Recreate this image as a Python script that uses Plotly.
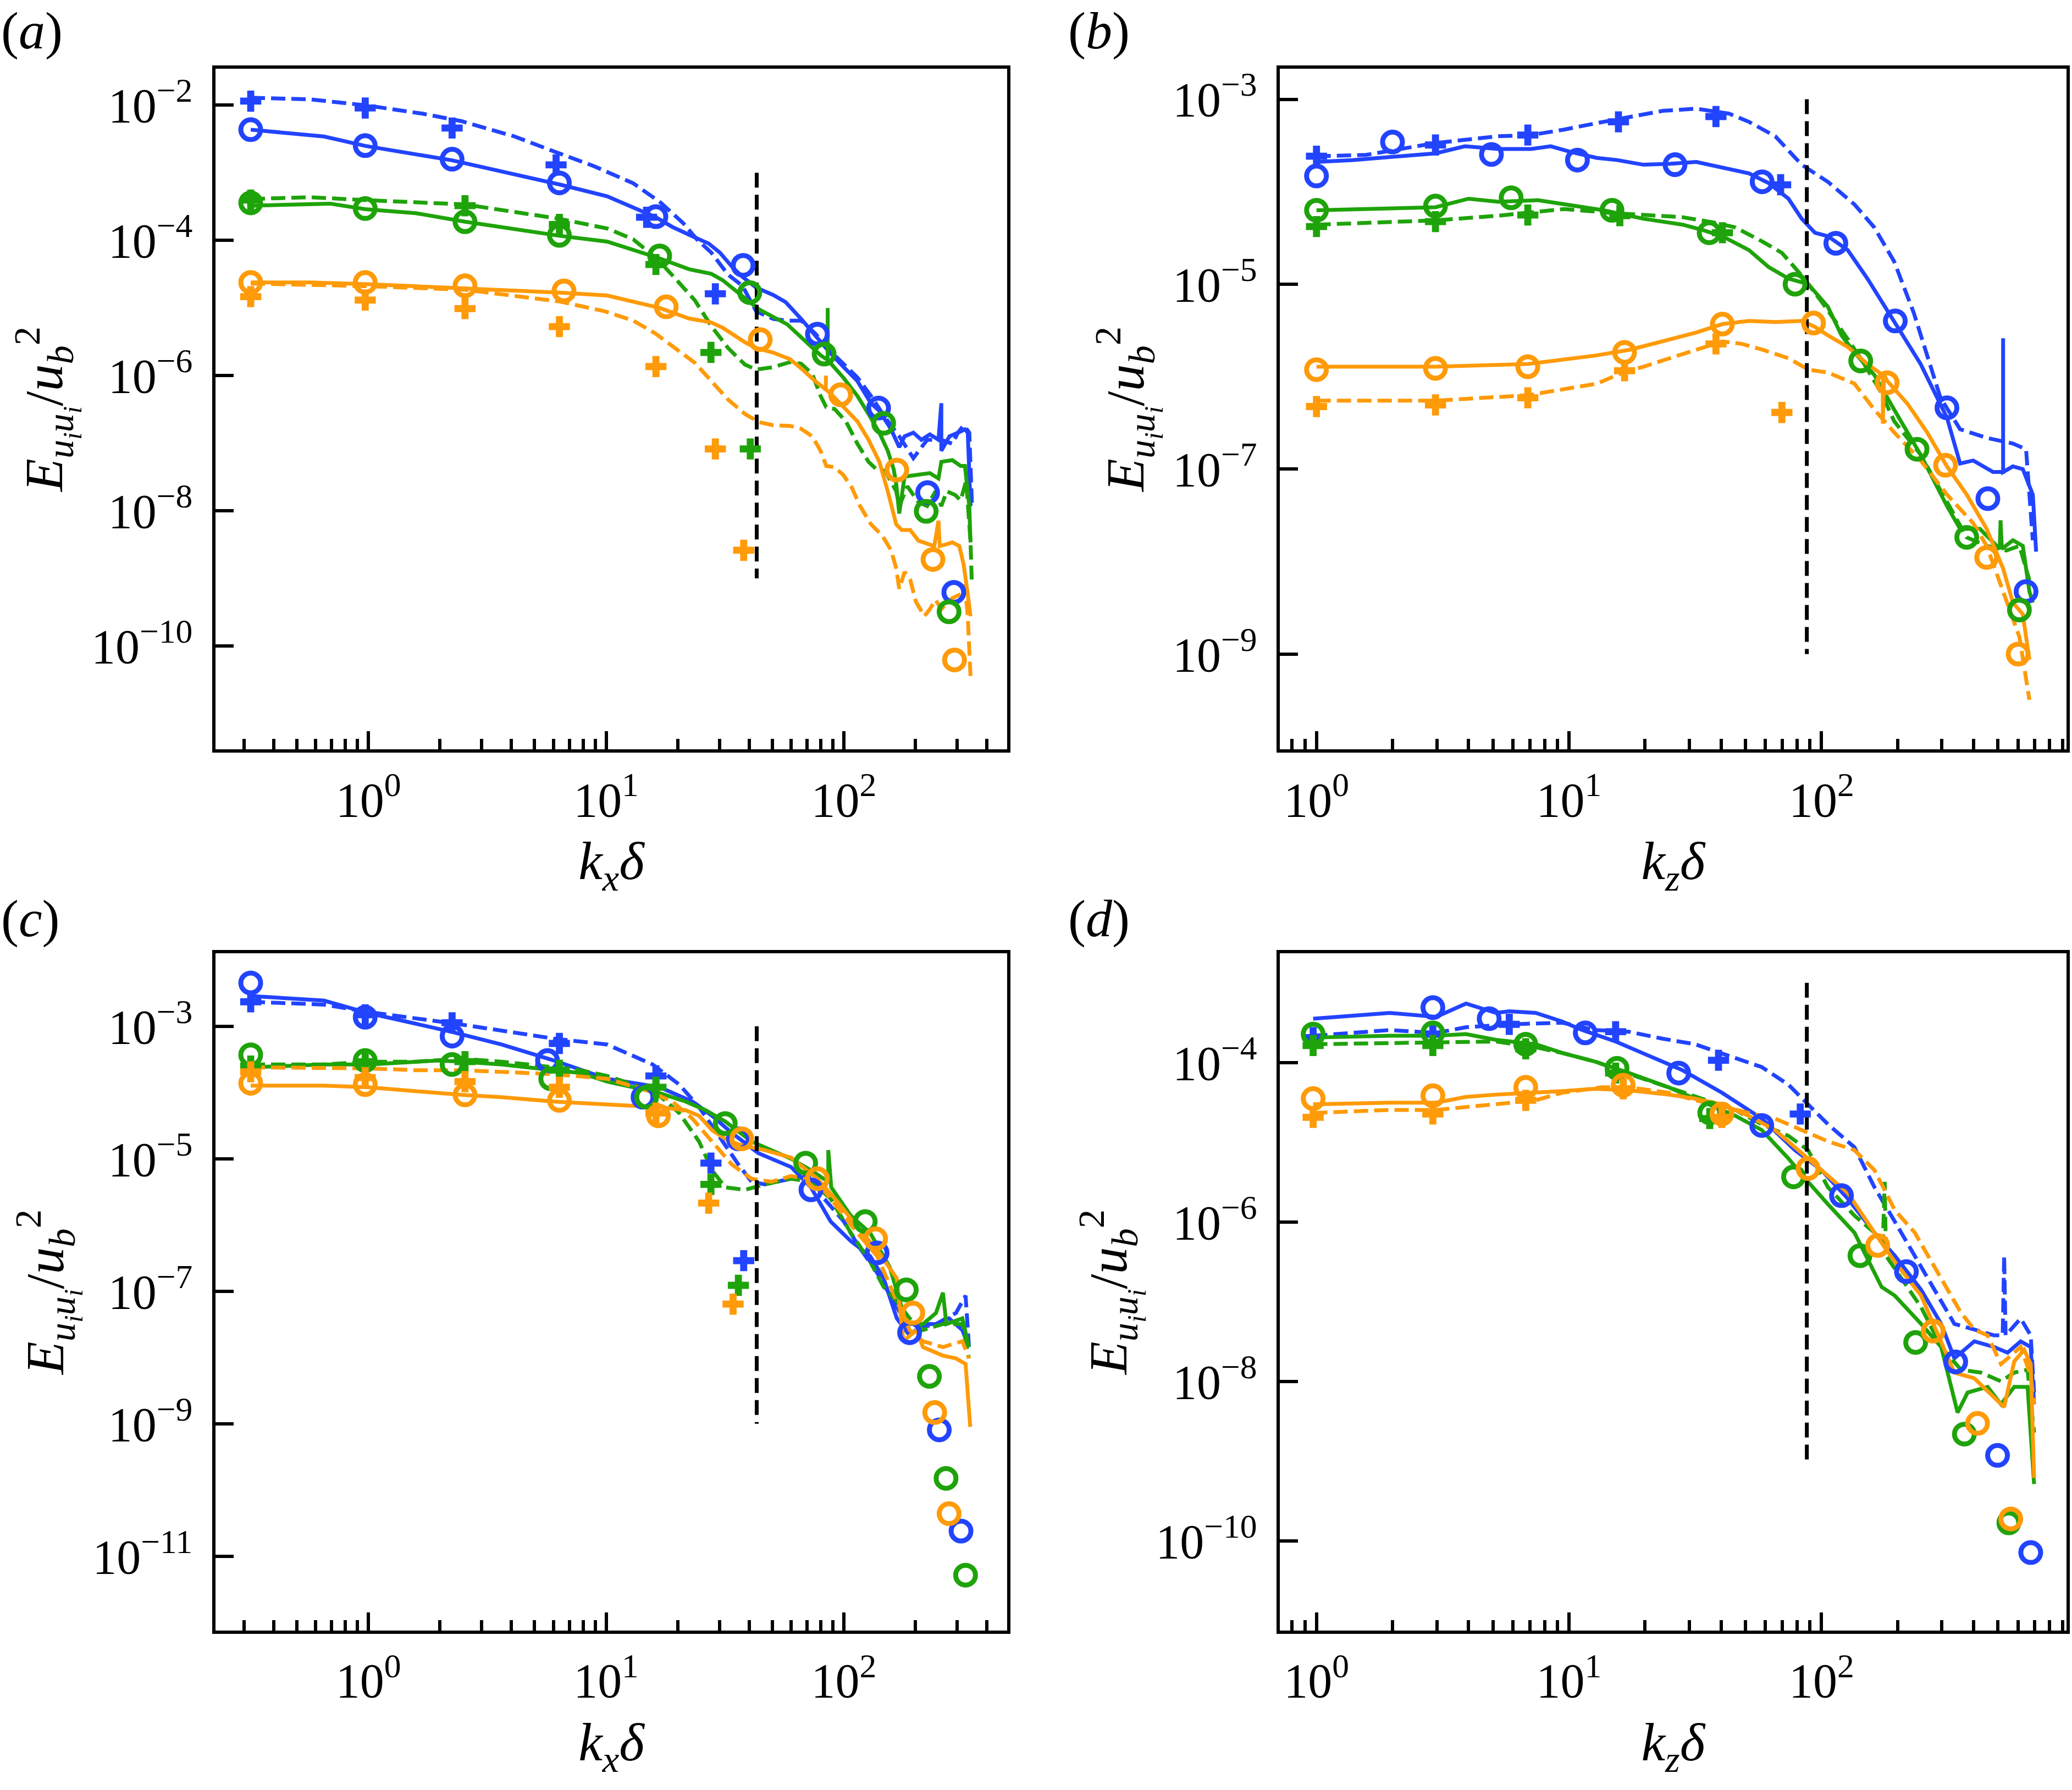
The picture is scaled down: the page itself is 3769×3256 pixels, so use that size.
import plotly.graph_objects as go
from plotly.subplots import make_subplots

# line colours of the three data sets
BLUE = "#2244ff"
GREEN = "#1fa30a"
ORANGE = "#ff9a08"
FONT = '"Liberation Serif", "Times New Roman", Times, serif'

# ---------------- panel (a): streamwise spectra ----------------
a_blue_solid_x = [0.32, 0.65, 0.97, 2.25, 6.4, 10.1, 16.2, 19.0, 23.6, 27.0, 30.1, 34.0, 37.4, 42.8, 50.4, 56.9, 66.1, 75.7, 86.7, 99.3,
                  114, 130, 141, 158, 171, 180, 196, 212, 230, 250, 257, 257, 278, 302, 323, 332, 341]
a_blue_solid_y = [4.35e-3, 3.45e-3, 2.5e-3, 1.53e-3, 6.7e-4, 4.5e-4, 2.2e-4, 1.58e-4, 1.11e-4, 9.0e-5, 6.6e-5, 4.0e-5, 2.9e-5, 2.0e-5,
                  1.56e-5, 1.22e-5, 6.9e-6, 3.9e-6, 2.25e-6, 1.36e-6, 8.3e-7, 3.9e-7, 3.0e-7, 1.6e-7, 8.7e-8, 1.26e-7, 1.43e-7,
                  1.12e-7, 1.35e-7, 1.12e-7, 3.9e-7, 7.7e-8, 1.26e-7, 1.43e-7, 1.6e-7, 1.43e-7, 1.17e-8]
a_blue_dash_x = [0.32, 0.57, 0.97, 1.69, 2.47, 4.12, 5.67, 8.86, 13.0, 17.0, 21.1, 24.2, 27.7, 32.6, 37.4, 42.8, 50.4, 57.7, 66.1, 75.7,
                 91.4, 114, 130, 149, 171, 196, 224, 257, 286, 302, 319, 337, 346]
a_blue_dash_y = [1.29e-2, 1.22e-2, 1.0e-2, 7.5e-3, 5.8e-3, 3.45e-3, 2.25e-3, 1.26e-3, 7.0e-4, 3.6e-4, 1.8e-4, 1.02e-4, 6.6e-5, 3.1e-5,
                 2.14e-5, 8.9e-6, 6.9e-6, 6.5e-6, 6.5e-6, 4.2e-6, 2.0e-6, 9.4e-7, 5.0e-7, 2.4e-7, 1.26e-7, 6.0e-8, 1.12e-7,
                 1.12e-7, 9.8e-8, 1.43e-7, 1.84e-7, 1.43e-7, 1.17e-8]
a_blue_circ_x = [0.32, 0.97, 2.25, 6.36, 16.2, 37.7, 77.4, 140, 225, 290]
a_blue_circ_y = [4.35e-3, 2.53e-3, 1.59e-3, 7.1e-4, 2.25e-4, 4.27e-5, 4.1e-6, 3.3e-7, 1.86e-8, 6.2e-10]
a_blue_plus_x = [0.32, 0.97, 2.25, 6.16, 14.8, 28.8]
a_blue_plus_y = [1.15e-2, 9.1e-3, 4.6e-3, 1.31e-3, 2.2e-4, 1.62e-5]

a_green_solid_x = [0.32, 0.69, 0.97, 1.58, 2.55, 6.36, 10.1, 14.5, 16.6, 22.3, 27.7, 30.9, 34.5, 39.5, 44.0, 57.7, 69.7, 79.8, 85.5,
                   85.5, 85.5, 99.3, 114, 127, 141, 153, 162, 166, 171, 180, 206, 230, 250, 257, 286, 310, 323, 337, 341]
a_green_solid_y = [3.26e-4, 3.5e-4, 2.9e-4, 2.53e-4, 1.89e-4, 1.17e-4, 9.6e-5, 6.5e-5, 5.5e-5, 3.75e-5, 3.2e-5, 2.58e-5, 1.89e-5,
                   1.3e-5, 9.5e-6, 5.75e-6, 3.1e-6, 2.0e-6, 1.7e-6, 1.0e-5, 1.7e-6, 9.4e-7, 5.0e-7, 2.7e-7, 1.43e-7, 7.7e-8,
                   4.1e-8, 2.5e-8, 9.1e-9, 3.2e-8, 3.4e-8, 3.6e-8, 3.0e-8, 5.3e-8, 5.6e-8, 4.6e-8, 4.6e-8, 1.17e-8, 3.4e-9]
a_green_dash_x = [0.32, 0.57, 0.97, 1.58, 2.55, 6.36, 10.1, 13.0, 16.6, 19.5, 23.6, 27.7, 32.6, 38.4, 42.8, 50.4, 59.3, 66.1, 73.6,
                  79.8, 84.3, 91.4, 102, 114, 127, 137, 149, 166, 171, 185, 206, 224, 243, 257, 271, 294, 310, 327, 341, 345]
a_green_dash_y = [4.1e-4, 4.35e-4, 3.95e-4, 3.7e-4, 3.4e-4, 2.09e-4, 1.5e-4, 1.04e-4, 5.1e-5, 2.75e-5, 1.3e-5, 5.4e-6, 2.55e-6,
                  1.45e-6, 1.23e-6, 1.33e-6, 1.58e-6, 1.5e-6, 1.06e-6, 5.0e-7, 3.4e-7, 3.2e-7, 2.1e-7, 9.8e-8, 5.3e-8, 4.1e-8,
                  3.9e-8, 1.94e-8, 1.17e-8, 2.3e-8, 1.33e-8, 1.17e-8, 1.94e-8, 1.17e-8, 1.94e-8, 1.71e-8, 1.42e-8, 2.8e-8,
                  3.4e-9, 9.6e-10]
a_green_circ_x = [0.32, 0.97, 2.55, 6.36, 16.8, 40.2, 82.6, 147, 222, 277]
a_green_circ_y = [3.6e-4, 2.96e-4, 1.89e-4, 1.19e-4, 5.9e-5, 1.69e-5, 2.08e-6, 1.97e-7, 9.8e-9, 3.2e-10]
a_green_plus_x = [0.32, 2.55, 6.36, 16.2, 27.6, 40.4]
a_green_plus_y = [3.95e-4, 3.26e-4, 1.72e-4, 4.4e-5, 2.2e-6, 8.2e-8]

a_orange_solid_x = [0.32, 0.57, 1.0, 2.55, 6.36, 10.1, 16.8, 22.3, 27.7, 30.9, 34.5, 38.4, 42.8, 50.4, 59.3, 66.1, 75.7, 84.0,
                    84.0, 84.0, 86.7, 99.3, 114, 127, 141, 153, 166, 175, 190, 206, 224, 240, 250, 253, 271, 286, 306, 319,
                    332, 341]
a_orange_solid_y = [2.39e-5, 2.39e-5, 2.25e-5, 1.97e-5, 1.69e-5, 1.53e-5, 1.0e-5, 7.0e-6, 6.1e-6, 5.1e-6, 3.9e-6, 3.1e-6,
                    2.55e-6, 2.19e-6, 1.75e-6, 1.28e-6, 8.3e-7, 6.2e-7, 1.0e-6, 6.2e-7, 5.7e-7, 3.4e-7, 2.1e-7, 1.12e-7,
                    5.3e-8, 1.94e-8, 6.3e-9, 5.2e-9, 5.2e-9, 3.6e-9, 3.2e-9, 3.0e-9, 7.1e-9, 3.0e-9, 3.2e-9, 3.4e-9,
                    3.0e-9, 1.6e-9, 5.8e-10, 2.75e-10]
a_orange_dash_x = [0.32, 1.0, 2.55, 6.36, 9.9, 13.0, 16.1, 19.5, 23.6, 27.7, 32.6, 38.4, 44.0, 50.4, 59.3, 66.1, 73.6, 79.8, 84.3,
                   91.4, 99.3, 108, 117, 130, 145, 158, 166, 171, 180, 190, 201, 218, 230, 243, 257, 271, 286, 310, 323,
                   332, 341]
a_orange_dash_y = [2.3e-5, 2.1e-5, 1.86e-5, 1.25e-5, 8.9e-6, 6.5e-6, 4.2e-6, 2.55e-6, 1.55e-6, 8.3e-7, 4.4e-7, 2.7e-7, 2.04e-7,
                   1.84e-7, 1.8e-7, 1.63e-7, 1.26e-7, 7.7e-8, 4.6e-8, 4.4e-8, 3.4e-8, 2.2e-8, 1.17e-8, 6.3e-9, 4.3e-9,
                   2.6e-9, 1.4e-9, 7.0e-10, 1.24e-9, 9.6e-10, 4.5e-10, 2.75e-10, 3.5e-10, 4.8e-10, 3.5e-10, 4.3e-10,
                   5.1e-10, 5.8e-10, 8.0e-10, 2.75e-10, 3.5e-11]
a_orange_circ_x = [0.32, 0.97, 2.55, 6.65, 17.9, 44.5, 96.9, 167, 237, 292]
a_orange_circ_y = [2.39e-5, 2.39e-5, 2.13e-5, 1.79e-5, 1.04e-5, 3.4e-6, 5.2e-7, 4.0e-8, 1.9e-9, 6.2e-11]
a_orange_plus_x = [0.32, 0.97, 2.55, 6.36, 16.2, 28.8, 37.9]
a_orange_plus_y = [1.47e-5, 1.31e-5, 9.8e-6, 5.3e-6, 1.36e-6, 8.2e-8, 2.6e-9]

# ---------------- panel (b): spanwise spectra ----------------
b_blue_solid_x = [1.0, 1.39, 2.96, 3.87, 5.24, 7.08, 8.47, 10.2, 12.9, 15.5, 19.7, 25.0, 31.9, 40.5, 51.6, 61.8, 74, 83.5, 94.2,
                  106, 127, 152, 194, 247, 314, 354, 399, 478, 524, 524, 524, 573, 627, 687, 708]
b_blue_solid_y = [2.1e-4, 2.2e-4, 2.6e-4, 3.1e-4, 2.9e-4, 2.9e-4, 3.1e-4, 2.68e-4, 2.32e-4, 2.2e-4, 1.96e-4, 2.0e-4, 2.1e-4,
                  1.83e-4, 1.58e-4, 1.24e-4, 8.4e-5, 5.1e-5, 3.6e-5, 3.3e-5, 2.34e-5, 1.15e-5, 4.0e-6, 1.37e-6, 3.6e-7,
                  1.15e-7, 1.24e-7, 9.3e-8, 9.3e-8, 2.6e-6, 9.3e-8, 1.07e-7, 1.0e-7, 5.3e-8, 1.28e-8]
b_blue_dash_x = [1.0, 1.57, 2.96, 5.24, 7.08, 9.56, 13.7, 17.5, 23.6, 31.9, 43.0, 51.6, 65.6, 83.5, 106, 135, 162, 194, 232, 296,
                 354, 451, 573, 646, 687]
b_blue_dash_y = [2.42e-4, 2.5e-4, 3.36e-4, 3.98e-4, 4.1e-4, 4.7e-4, 5.7e-4, 6.5e-4, 7.5e-4, 7.9e-4, 7.0e-4, 5.7e-4, 3.98e-4,
                 1.96e-4, 1.28e-4, 7.3e-5, 4.1e-5, 1.76e-5, 4.9e-6, 5.9e-7, 2.7e-7, 2.18e-7, 1.89e-7, 1.64e-7, 1.7e-8]
b_blue_circ_x = [1.0, 2.0, 4.93, 10.8, 26.3, 58.2, 114, 196, 314, 456, 646]
b_blue_circ_y = [1.48e-4, 3.45e-4, 2.53e-4, 2.2e-4, 1.96e-4, 1.28e-4, 2.77e-5, 4.0e-6, 4.6e-7, 4.8e-8, 4.75e-9]
b_blue_plus_x = [1.0, 2.96, 6.87, 15.7, 38.2, 68.9]
b_blue_plus_y = [2.42e-4, 3.2e-4, 4.1e-4, 5.7e-4, 6.5e-4, 1.19e-4]

b_green_solid_x = [1.0, 2.96, 4.0, 5.24, 7.5, 9.56, 13.7, 19.7, 28.2, 33.8, 40.5, 51.6, 61.8, 74, 88.7, 106, 120, 135, 162, 194,
                   247, 314, 354, 424, 508, 512, 518, 573, 627, 666, 687]
b_green_solid_y = [6.3e-5, 6.8e-5, 8.4e-5, 7.8e-5, 8.1e-5, 7.3e-5, 6.3e-5, 5.1e-5, 4.4e-5, 3.85e-5, 3.3e-5, 2.34e-5, 1.53e-5,
                   1.15e-5, 1.0e-5, 5.7e-6, 2.8e-6, 1.83e-6, 1.04e-6, 4.4e-7, 1.43e-7, 4.0e-8, 2.26e-8, 2.26e-8, 1.37e-8,
                   2.8e-8, 1.37e-8, 1.7e-8, 1.48e-8, 4.75e-9, 3.6e-9]
b_green_dash_x = [1.0, 2.96, 5.24, 6.87, 9.56, 14.6, 19.7, 28.2, 38.2, 45.7, 58.2, 69.7, 83.5, 100, 120, 143, 172, 194, 247, 314,
                  376, 451, 540, 608, 666]
b_green_dash_y = [4.4e-5, 4.9e-5, 5.5e-5, 5.9e-5, 6.5e-5, 5.9e-5, 5.6e-5, 5.3e-5, 4.6e-5, 4.1e-5, 2.9e-5, 2.18e-5, 1.24e-5,
                  6.5e-6, 3.2e-6, 1.58e-6, 6.8e-7, 3.3e-7, 1.43e-7, 4.3e-8, 1.83e-8, 1.48e-8, 1.32e-8, 1.48e-8, 6.3e-9]
b_green_circ_x = [1.0, 2.96, 5.9, 14.8, 35.9, 78.6, 143, 239, 376, 608]
b_green_circ_y = [6.3e-5, 7.0e-5, 8.6e-5, 6.3e-5, 3.6e-5, 1.0e-5, 1.48e-6, 1.64e-7, 1.83e-8, 3.0e-9]
b_green_plus_x = [1.0, 2.96, 6.87, 15.9, 40.5]
b_green_plus_y = [4.2e-5, 4.75e-5, 5.6e-5, 5.5e-5, 3.6e-5]

b_orange_solid_x = [1.0, 2.96, 6.87, 9.56, 12.9, 17.5, 23.6, 31.9, 40.5, 51.6, 65.6, 83.5, 94.2, 106, 127, 152, 175, 175, 177, 182,
                    219, 262, 314, 376, 451, 524, 573, 627, 666]
b_orange_solid_y = [1.28e-6, 1.28e-6, 1.37e-6, 1.54e-6, 1.7e-6, 1.96e-6, 2.4e-6, 3.0e-6, 3.7e-6, 4.0e-6, 3.9e-6, 4.0e-6, 3.45e-6,
                    2.8e-6, 2.1e-6, 1.37e-6, 1.04e-6, 3.1e-7, 1.04e-6, 9.0e-7, 5.1e-7, 2.5e-7, 1.07e-7, 5.3e-8, 2.26e-8,
                    8.4e-9, 3.6e-9, 2.7e-9, 8.7e-10]
b_orange_dash_x = [1.0, 2.96, 6.87, 9.56, 12.9, 16.4, 19.7, 25.0, 31.9, 40.5, 48.5, 58.2, 74, 88.7, 106, 135, 162, 194, 247, 314,
                   399, 451, 524, 608, 666]
b_orange_dash_y = [5.5e-7, 5.5e-7, 6.3e-7, 7.3e-7, 8.4e-7, 1.11e-6, 1.28e-6, 1.58e-6, 1.96e-6, 2.4e-6, 2.26e-6, 1.96e-6, 1.58e-6,
                   1.19e-6, 1.11e-6, 8.4e-7, 4.4e-7, 2.5e-7, 1.24e-7, 5.3e-8, 2.6e-8, 1.48e-8, 4.75e-9, 1.53e-9, 3.2e-10]
b_orange_circ_x = [1.0, 2.96, 6.87, 16.6, 40.5, 93, 182, 310, 451, 601]
b_orange_circ_y = [1.19e-6, 1.23e-6, 1.28e-6, 1.83e-6, 3.7e-6, 3.8e-6, 8.6e-7, 1.1e-7, 1.11e-8, 1.0e-9]
b_orange_plus_x = [1.0, 2.96, 6.87, 16.6, 38.2, 69.7]
b_orange_plus_y = [4.75e-7, 4.95e-7, 5.9e-7, 1.16e-6, 2.26e-6, 4.1e-7]

# ---------------- panel (c): streamwise spectra ----------------
c_blue_solid_x = [0.32, 0.65, 1.0, 2.25, 3.63, 6.04, 10.1, 16.8, 23.1, 27.9, 33.8, 43.6, 60, 72.7, 88, 107, 129, 147, 167, 189,
                  215, 244, 277, 315, 336]
c_blue_solid_y = [2.86e-3, 2.44e-3, 1.58e-3, 8.2e-4, 5.3e-4, 3.04e-4, 1.61e-4, 1.2e-4, 7.3e-5, 4.45e-5, 2.45e-5, 1.22e-5,
                  7.5e-6, 3.7e-6, 1.13e-6, 5.7e-7, 3.4e-7, 1.56e-7, 3.9e-8, 2.15e-8, 3.2e-8, 3.2e-8, 3.9e-8, 2.6e-8, 1.44e-8]
c_blue_dash_x = [0.32, 0.65, 1.0, 2.47, 6.04, 10.1, 13.0, 15.7, 20.3, 24.6, 29.8, 36.0, 40.9, 46.5, 60, 72.7, 82.6, 100, 114, 138,
                 167, 189, 244, 296, 325, 336]
c_blue_dash_y = [2.34e-3, 2.12e-3, 1.64e-3, 1.06e-3, 6.5e-4, 5.3e-4, 3.56e-4, 2.65e-4, 1.32e-4, 6.0e-5, 2.22e-5, 8.2e-6, 4.5e-6,
                 4.1e-6, 5.0e-6, 5.5e-6, 2.5e-6, 1.13e-6, 5.1e-7, 1.9e-7, 5.8e-8, 2.6e-8, 3.2e-8, 4.7e-8, 8.6e-8, 1.44e-8]
c_blue_circ_x = [0.32, 0.97, 2.25, 5.67, 14.3, 36.0, 72.7, 138, 189, 252, 311]
c_blue_circ_y = [4.5e-3, 1.37e-3, 7.1e-4, 3.04e-4, 8.5e-5, 2.0e-5, 3.4e-6, 3.8e-7, 2.37e-8, 8.1e-10, 2.4e-11]
c_blue_plus_x = [0.32, 0.97, 2.25, 6.36, 16.2, 27.6, 37.9]
c_blue_plus_y = [2.34e-3, 1.49e-3, 1.13e-3, 5.5e-4, 1.78e-4, 8.6e-6, 2.9e-7]

c_green_solid_x = [0.32, 0.65, 1.01, 1.58, 1.98, 2.47, 3.63, 6.04, 7.8, 10.1, 13.0, 16.8, 21.6, 26.2, 31.7, 40.9, 46.5, 60, 72.7,
                   86, 86, 88.5, 107, 129, 156, 178, 189, 215, 244, 261, 270, 315, 336]
c_green_solid_y = [2.4e-4, 2.65e-4, 2.65e-4, 2.92e-4, 3.04e-4, 2.92e-4, 2.65e-4, 2.17e-4, 1.97e-4, 1.46e-4, 1.2e-4, 9.8e-5,
                   7.3e-5, 5.4e-5, 3.65e-5, 1.82e-5, 1.49e-5, 1.0e-5, 6.7e-6, 4.5e-6, 1.35e-5, 3.7e-6, 1.38e-6, 7.6e-7,
                   2.3e-7, 4.7e-8, 3.2e-8, 3.2e-8, 4.7e-8, 9.5e-8, 3.2e-8, 3.9e-8, 1.44e-8]
c_green_dash_x = [0.32, 0.65, 1.01, 1.58, 2.47, 3.63, 6.04, 7.8, 10.1, 13.0, 16.8, 20.3, 24.6, 27.9, 31.7, 38.4, 46.5, 60, 72.7,
                  88, 107, 129, 147, 167, 189, 215, 261, 315, 336]
c_green_dash_y = [2.65e-4, 2.65e-4, 2.92e-4, 2.92e-4, 3.23e-4, 2.92e-4, 2.4e-4, 2.17e-4, 1.78e-4, 1.32e-4, 8.9e-5, 4.9e-5,
                  1.82e-5, 6.7e-6, 3.7e-6, 3.4e-6, 4.1e-6, 5.0e-6, 4.5e-6, 2.5e-6, 7.6e-7, 2.8e-7, 1.16e-7, 7.1e-8, 3.9e-8,
                  2.6e-8, 3.2e-8, 3.2e-8, 9.7e-9]
c_green_circ_x = [0.32, 0.97, 2.25, 5.85, 14.8, 31.7, 69.1, 123, 183, 229, 269, 325]
c_green_circ_y = [3.7e-4, 3.04e-4, 2.65e-4, 1.61e-4, 8.5e-5, 3.4e-5, 8.6e-6, 1.13e-6, 1.05e-7, 5.2e-9, 1.5e-10, 5.2e-12]
c_green_plus_x = [0.32, 0.97, 2.55, 6.36, 16.2, 27.6, 36.0]
c_green_plus_y = [2.5e-4, 2.92e-4, 2.92e-4, 2.17e-4, 1.2e-4, 4.1e-6, 1.23e-7]

c_orange_solid_x = [0.32, 0.65, 1.0, 1.58, 2.47, 3.63, 6.04, 10.1, 13.0, 16.8, 21.6, 24.6, 27.9, 31.7, 36.0, 46.5, 60, 77.4, 93.8,
                    114, 138, 167, 178, 202, 215, 261, 296, 325, 340]
c_orange_solid_y = [1.27e-4, 1.27e-4, 1.2e-4, 1.04e-4, 9.2e-5, 8.5e-5, 7.3e-5, 6.6e-5, 6.2e-5, 6.0e-5, 5.4e-5, 4.45e-5, 2.7e-5,
                    2.0e-5, 1.65e-5, 1.35e-5, 1.04e-5, 5.0e-6, 2.27e-6, 9.3e-7, 4.2e-7, 1.56e-7, 1.76e-8, 2.6e-8, 1.44e-8,
                    1.07e-8, 9.7e-9, 8.0e-9, 9.0e-10]
c_orange_dash_x = [0.32, 0.65, 1.01, 1.58, 2.47, 3.63, 6.04, 10.1, 14.8, 19.0, 23.1, 27.9, 33.8, 40.9, 49.6, 60, 77.4, 93.8, 114,
                   138, 167, 189, 215, 261, 315, 336]
c_orange_dash_y = [2.4e-4, 2.31e-4, 2.31e-4, 2.17e-4, 2.17e-4, 2.05e-4, 1.89e-4, 1.61e-4, 1.08e-4, 7.3e-5, 4.0e-5, 1.82e-5,
                   8.2e-6, 5.0e-6, 4.5e-6, 5.5e-6, 4.5e-6, 1.86e-6, 7.6e-7, 3.4e-7, 7.1e-8, 2.6e-8, 1.76e-8, 1.44e-8,
                   1.76e-8, 9.7e-9]
c_orange_circ_x = [0.32, 0.97, 2.55, 6.36, 16.6, 37.2, 77.4, 136, 195, 241, 277]
c_orange_circ_y = [1.38e-4, 1.32e-4, 9.2e-5, 7.6e-5, 4.45e-5, 2.0e-5, 5.0e-6, 6.2e-7, 4.7e-8, 1.48e-9, 4.4e-11]
c_orange_plus_x = [0.32, 0.97, 2.55, 6.36, 16.2, 27.0, 34.2]
c_orange_plus_y = [2.05e-4, 1.68e-4, 1.46e-4, 1.2e-4, 4.9e-5, 2.14e-6, 6.4e-8]

# ---------------- panel (d): spanwise spectra ----------------
d_blue_solid_x = [0.97, 1.95, 2.98, 3.91, 5.14, 5.8, 7.38, 9.41, 11.3, 15.3, 20.7, 28.0, 40.3, 58, 78.5, 100, 127, 162, 195, 248,
                  298, 336, 403, 483, 546, 615, 674, 695]
d_blue_solid_y = [3.56e-4, 4.2e-4, 3.74e-4, 5.5e-4, 4.2e-4, 4.4e-4, 4.2e-4, 3.27e-4, 2.56e-4, 1.84e-4, 1.22e-4, 8.1e-5, 4.2e-5,
                  1.99e-5, 8.0e-6, 4.5e-6, 1.98e-6, 7.4e-7, 3.8e-7, 1.42e-7, 5.3e-8, 1.96e-8, 3.2e-8, 2.72e-8, 2.31e-8,
                  3.2e-8, 2.72e-8, 5.2e-9]
d_blue_dash_x = [0.97, 1.95, 2.98, 3.91, 5.8, 9.41, 12.7, 17.3, 23.4, 31.6, 42.8, 58, 73.9, 88.5, 106, 135, 162, 195, 234, 280,
                 336, 403, 483, 522, 529, 536, 615, 674, 695]
d_blue_dash_y = [2.17e-4, 2.56e-4, 2.36e-4, 2.78e-4, 3.02e-4, 3.17e-4, 2.56e-4, 2.44e-4, 2.0e-4, 1.7e-4, 1.22e-4, 8.8e-5, 5.3e-5,
                 3.0e-5, 1.69e-5, 8.7e-6, 2.75e-6, 1.02e-6, 3.8e-7, 1.42e-7, 5.3e-8, 4.5e-8, 3.8e-8, 3.8e-8, 3.8e-7, 3.8e-8,
                 6.2e-8, 3.8e-8, 7.3e-9]
d_blue_circ_x = [2.89, 4.83, 11.6, 27.2, 58, 120, 217, 340, 498, 674]
d_blue_circ_y = [4.9e-4, 3.56e-4, 2.36e-4, 7.4e-5, 1.63e-5, 2.15e-6, 2.4e-7, 1.77e-8, 1.19e-9, 7.2e-11]
d_blue_plus_x = [0.97, 2.89, 5.8, 15.3, 39.1, 82.4]
d_blue_plus_y = [2.06e-4, 2.28e-4, 3.02e-4, 2.44e-4, 1.07e-4, 2.27e-5]

d_green_solid_x = [0.97, 1.95, 2.98, 3.91, 5.14, 7.38, 9.41, 12.7, 17.3, 24.8, 35.7, 45.5, 58, 73.9, 88.5, 106, 135, 173, 195,
                   248, 298, 346, 379, 455, 514, 580, 655, 695]
d_green_solid_y = [2.06e-4, 2.17e-4, 2.17e-4, 2.28e-4, 1.93e-4, 1.7e-4, 1.32e-4, 1.03e-4, 7.4e-5, 4.9e-5, 3.0e-5, 2.16e-5,
                   1.43e-5, 6.3e-6, 3.2e-6, 1.68e-6, 7.4e-7, 1.54e-7, 1.2e-7, 5.3e-8, 2.72e-8, 4.1e-9, 7.3e-9, 8.6e-9,
                   5.2e-9, 8.6e-9, 8.6e-9, 5.2e-10]
d_green_dash_x = [0.97, 1.95, 2.98, 5.14, 7.38, 9.41, 12.7, 17.3, 24.8, 35.7, 45.5, 58, 73.9, 88.5, 106, 135, 162, 175, 178, 180,
                  207, 248, 298, 357, 428, 514, 580, 655, 695]
d_green_dash_y = [1.7e-4, 1.75e-4, 1.75e-4, 1.84e-4, 1.56e-4, 1.32e-4, 1.03e-4, 7.2e-5, 4.9e-5, 3.26e-5, 2.55e-5, 1.69e-5,
                  1.21e-5, 8.0e-6, 2.75e-6, 1.21e-6, 7.4e-7, 5.5e-7, 3.2e-6, 3.8e-7, 1.97e-7, 8.6e-8, 2.72e-8, 1.41e-8,
                  1.3e-8, 1.01e-8, 1.3e-8, 1.41e-8, 2.3e-9]
d_green_circ_x = [0.97, 2.89, 6.74, 15.5, 36.1, 77.5, 142, 236, 368, 552]
d_green_circ_y = [2.28e-4, 2.36e-4, 1.7e-4, 8.5e-5, 2.34e-5, 3.7e-6, 3.8e-7, 3.1e-8, 2.2e-9, 1.7e-10]
d_green_plus_x = [0.97, 2.89, 6.74, 15.3, 36.1]
d_green_plus_y = [1.64e-4, 1.64e-4, 1.49e-4, 7.4e-5, 1.99e-5]

d_orange_solid_x = [0.97, 1.95, 2.98, 3.91, 5.14, 7.38, 9.41, 12.7, 17.3, 24.8, 31.6, 40.3, 51.4, 65.4, 83.4, 100, 127, 162, 195,
                    248, 298, 336, 403, 483, 529, 580, 635, 674, 695]
d_orange_solid_y = [3.0e-5, 3.15e-5, 3.15e-5, 3.72e-5, 3.97e-5, 4.2e-5, 4.4e-5, 4.7e-5, 4.5e-5, 3.97e-5, 3.54e-5, 3.0e-5,
                    2.16e-5, 1.43e-5, 7.4e-6, 4.5e-6, 2.33e-6, 7.4e-7, 3.2e-7, 1.2e-7, 3.2e-8, 1.3e-8, 1.1e-8, 6.2e-9,
                    4.8e-9, 1.8e-8, 2.5e-8, 1.66e-8, 6.2e-10]
d_orange_dash_x = [0.97, 1.95, 2.98, 5.14, 7.38, 9.41, 13.5, 17.3, 24.8, 31.6, 40.3, 51.4, 65.4, 83.4, 106, 135, 162, 195, 234,
                   264, 316, 357, 403, 455, 514, 546, 615, 674, 695]
d_orange_dash_y = [2.34e-5, 2.55e-5, 2.55e-5, 3.0e-5, 3.37e-5, 4.2e-5, 4.9e-5, 4.9e-5, 4.2e-5, 3.37e-5, 2.86e-5, 2.34e-5,
                   1.99e-5, 1.43e-5, 1.03e-5, 8.0e-6, 4.5e-6, 1.42e-6, 7.4e-7, 3.8e-7, 1.42e-7, 7.3e-8, 4.5e-8, 3.8e-8,
                   1.66e-8, 1.96e-8, 2.72e-8, 1.19e-8, 5.2e-9]
d_orange_circ_x = [0.97, 2.89, 6.74, 16.4, 40.3, 88.5, 167, 277, 415, 562]
d_orange_circ_y = [3.54e-5, 3.85e-5, 4.9e-5, 5.2e-5, 2.27e-5, 4.7e-6, 5.1e-7, 4.3e-8, 3.0e-9, 1.9e-10]
d_orange_plus_x = [0.97, 2.89, 6.74, 16.4, 40.3]
d_orange_plus_y = [2.06e-5, 2.27e-5, 3.37e-5, 4.7e-5, 2.06e-5]

# black dashed cut-off lines
cutoff_kx = [43, 43]
cutoff_kz = [87.5, 87.5]
cutoff_y = [1e-3, 1e-9]

# tick labels
x_major = [1, 10, 100]
x_major_text = ["10<sup>0</sup>", "10<sup>1</sup>", "10<sup>2</sup>"]
a_yticks = [1e-2, 1e-4, 1e-6, 1e-8, 1e-10]
a_yticktext = ["10<sup>\u22122</sup>", "10<sup>\u22124</sup>", "10<sup>\u22126</sup>", "10<sup>\u22128</sup>", "10<sup>\u221210</sup>"]
b_yticks = [1e-3, 1e-5, 1e-7, 1e-9]
b_yticktext = ["10<sup>\u22123</sup>", "10<sup>\u22125</sup>", "10<sup>\u22127</sup>", "10<sup>\u22129</sup>"]
c_yticks = [1e-3, 1e-5, 1e-7, 1e-9, 1e-11]
c_yticktext = ["10<sup>\u22123</sup>", "10<sup>\u22125</sup>", "10<sup>\u22127</sup>", "10<sup>\u22129</sup>", "10<sup>\u221211</sup>"]
d_yticks = [1e-4, 1e-6, 1e-8, 1e-10]
d_yticktext = ["10<sup>\u22124</sup>", "10<sup>\u22126</sup>", "10<sup>\u22128</sup>", "10<sup>\u221210</sup>"]

# minor ticks on the x axes
minor_kx = [m * 0.1 for m in range(3, 10)] + [m for m in range(2, 10)] + [m * 10 for m in range(2, 10)] + [200, 300, 400]
minor_kz = [0.8, 0.9] + [m for m in range(2, 10)] + [m * 10 for m in range(2, 10)] + [m * 100 for m in range(2, 10)]

W, H = 3769, 3256

fig = make_subplots(rows=2, cols=2)


def add_line(x, y, color, dash, row, col):
    fig.add_trace(go.Scatter(x=x, y=y, mode="lines", line=dict(color=color, width=7, dash=dash),
                             showlegend=False, hoverinfo="skip"), row=row, col=col)


def add_marks(x, y, color, symbol, row, col):
    if symbol == "circle-open":
        marker = dict(symbol=symbol, size=36, color=color, line=dict(color=color, width=9))
    else:
        marker = dict(symbol=symbol, size=32, color=color, line=dict(width=0))
    fig.add_trace(go.Scatter(x=x, y=y, mode="markers", marker=marker, showlegend=False, hoverinfo="skip"),
                  row=row, col=col)


panels = [
    (1, 1, [(a_blue_solid_x, a_blue_solid_y, a_blue_dash_x, a_blue_dash_y, a_blue_circ_x, a_blue_circ_y, a_blue_plus_x, a_blue_plus_y, BLUE),
            (a_green_solid_x, a_green_solid_y, a_green_dash_x, a_green_dash_y, a_green_circ_x, a_green_circ_y, a_green_plus_x, a_green_plus_y, GREEN),
            (a_orange_solid_x, a_orange_solid_y, a_orange_dash_x, a_orange_dash_y, a_orange_circ_x, a_orange_circ_y, a_orange_plus_x, a_orange_plus_y, ORANGE)],
     cutoff_kx),
    (1, 2, [(b_blue_solid_x, b_blue_solid_y, b_blue_dash_x, b_blue_dash_y, b_blue_circ_x, b_blue_circ_y, b_blue_plus_x, b_blue_plus_y, BLUE),
            (b_green_solid_x, b_green_solid_y, b_green_dash_x, b_green_dash_y, b_green_circ_x, b_green_circ_y, b_green_plus_x, b_green_plus_y, GREEN),
            (b_orange_solid_x, b_orange_solid_y, b_orange_dash_x, b_orange_dash_y, b_orange_circ_x, b_orange_circ_y, b_orange_plus_x, b_orange_plus_y, ORANGE)],
     cutoff_kz),
    (2, 1, [(c_blue_solid_x, c_blue_solid_y, c_blue_dash_x, c_blue_dash_y, c_blue_circ_x, c_blue_circ_y, c_blue_plus_x, c_blue_plus_y, BLUE),
            (c_green_solid_x, c_green_solid_y, c_green_dash_x, c_green_dash_y, c_green_circ_x, c_green_circ_y, c_green_plus_x, c_green_plus_y, GREEN),
            (c_orange_solid_x, c_orange_solid_y, c_orange_dash_x, c_orange_dash_y, c_orange_circ_x, c_orange_circ_y, c_orange_plus_x, c_orange_plus_y, ORANGE)],
     cutoff_kx),
    (2, 2, [(d_blue_solid_x, d_blue_solid_y, d_blue_dash_x, d_blue_dash_y, d_blue_circ_x, d_blue_circ_y, d_blue_plus_x, d_blue_plus_y, BLUE),
            (d_green_solid_x, d_green_solid_y, d_green_dash_x, d_green_dash_y, d_green_circ_x, d_green_circ_y, d_green_plus_x, d_green_plus_y, GREEN),
            (d_orange_solid_x, d_orange_solid_y, d_orange_dash_x, d_orange_dash_y, d_orange_circ_x, d_orange_circ_y, d_orange_plus_x, d_orange_plus_y, ORANGE)],
     cutoff_kz),
]

for row, col, sets, cut_x in panels:
    for sx, sy, dx, dy, cx, cy, px_, py_, color in sets:
        add_line(sx, sy, color, "solid", row, col)
        add_line(dx, dy, color, "26px,11px", row, col)
    fig.add_trace(go.Scatter(x=cut_x, y=cutoff_y, mode="lines", line=dict(color="black", width=7, dash="27px,13px"),
                             showlegend=False, hoverinfo="skip"), row=row, col=col)
    for sx, sy, dx, dy, cx, cy, px_, py_, color in sets:
        add_marks(cx, cy, color, "circle-open", row, col)
        add_marks(px_, py_, color, "cross", row, col)

tick_font = dict(family=FONT, size=88, color="black")
title_font = dict(family=FONT, size=98, color="black")
ylabel = ("<i>E</i><sub><i>u</i><sub><i>i</i></sub><i>u</i><sub><i>i</i></sub></sub>"
          "/<i>u</i><sub><i>b</i></sub><sup>2</sup>")

# per panel: x domain, y domain, x range, y range (log10), y ticks, y tick text, minor x ticks, x title
axes_cfg = [
    (1, 1, [0.1040, 0.4861], [0.5814, 0.9616], [-0.643, 2.687], [-11.53, -1.46], a_yticks, a_yticktext, minor_kx, "<i>k<sub>x</sub>\u03b4</i>"),
    (1, 2, [0.6177, 0.9973], [0.5814, 0.9616], [-0.145, 2.97], [-10.03, -2.67], b_yticks, b_yticktext, minor_kz, "<i>k<sub>z</sub>\u03b4</i>"),
    (2, 1, [0.1040, 0.4861], [0.0891, 0.4674], [-0.643, 2.687], [-12.12, -1.90], c_yticks, c_yticktext, minor_kx, "<i>k<sub>x</sub>\u03b4</i>"),
    (2, 2, [0.6177, 0.9973], [0.0891, 0.4674], [-0.145, 2.97], [-11.12, -2.63], d_yticks, d_yticktext, minor_kz, "<i>k<sub>z</sub>\u03b4</i>"),
]

for row, col, xdom, ydom, xr, yr, yt, ytt, minor, xtitle in axes_cfg:
    fig.update_xaxes(row=row, col=col, type="log", domain=xdom, range=xr, tickmode="array",
                     tickvals=x_major, ticktext=x_major_text, ticks="inside", ticklen=33, tickwidth=5.5,
                     tickcolor="black", ticklabelstandoff=10,
                     minor=dict(tickmode="array", tickvals=minor, ticks="inside", ticklen=19, tickwidth=5.5,
                                tickcolor="black", showgrid=False),
                     showline=True, linewidth=6, linecolor="black", mirror=True, showgrid=False, zeroline=False,
                     tickfont=tick_font, automargin=False,
                     title=dict(text=xtitle, font=title_font, standoff=30))
    fig.update_yaxes(row=row, col=col, type="log", domain=ydom, range=yr, tickmode="array",
                     tickvals=yt, ticktext=ytt, ticks="inside", ticklen=33, tickwidth=5.5, tickcolor="black",
                     ticklabelstandoff=18,
                     showline=True, linewidth=6, linecolor="black", mirror=True, showgrid=False, zeroline=False,
                     tickfont=tick_font, automargin=False,
                     title=dict(text=ylabel, font=title_font, standoff=22))

panel_labels = [("(<i>a</i>)", 0.0, 0.983), ("(<i>b</i>)", 0.515, 0.983),
                ("(<i>c</i>)", 0.0, 0.487), ("(<i>d</i>)", 0.515, 0.487)]
for text, x, y in panel_labels:
    fig.add_annotation(text=text, x=x, y=y, xref="paper", yref="paper", xanchor="left", yanchor="middle",
                       showarrow=False, font=dict(family=FONT, size=96, color="black"))

fig.update_layout(width=W, height=H, template="none", margin=dict(l=0, r=0, t=0, b=0),
                  plot_bgcolor="white", paper_bgcolor="white", showlegend=False)

fig.write_html("out.html", config={"displayModeBar": False},
               post_script="document.body.style.margin='0';")
